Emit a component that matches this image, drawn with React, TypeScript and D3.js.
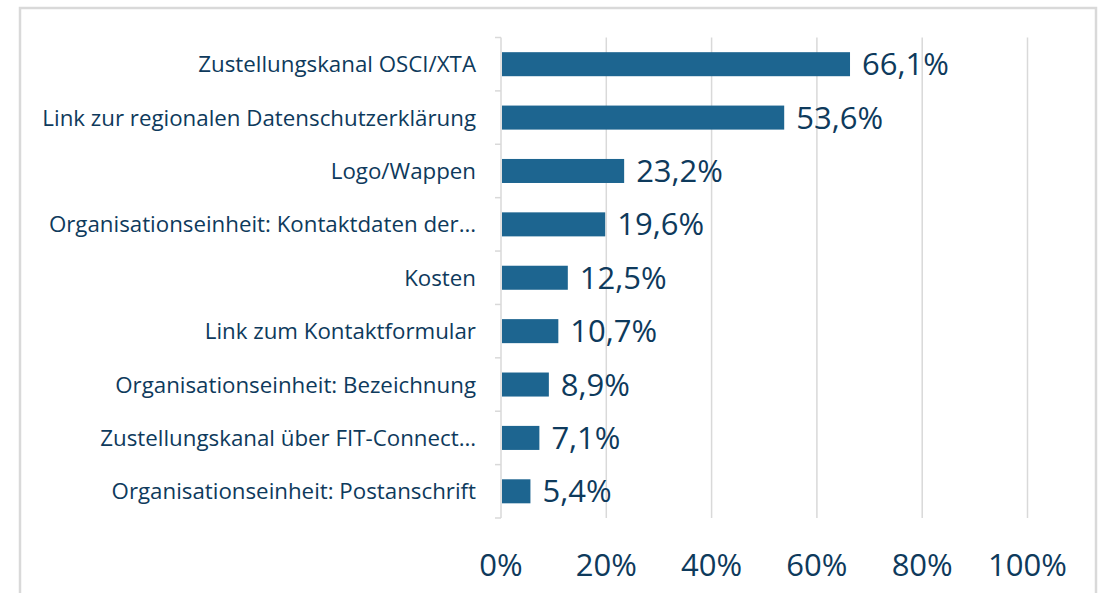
import React from "react";
import * as d3 from "d3";

const categories = [
  "Zustellungskanal OSCI/XTA",
  "Link zur regionalen Datenschutzerklärung",
  "Logo/Wappen",
  "Organisationseinheit: Kontaktdaten der…",
  "Kosten",
  "Link zum Kontaktformular",
  "Organisationseinheit: Bezeichnung",
  "Zustellungskanal über FIT-Connect…",
  "Organisationseinheit: Postanschrift",
];
const values = [66.1, 53.6, 23.2, 19.6, 12.5, 10.7, 8.9, 7.1, 5.4];
const xTicks = [0, 20, 40, 60, 80, 100];

const W = 1106;
const H = 593;
const FONT = "'Open Sans', 'Noto Sans', sans-serif";
const TEXT = "#0e3a5c";
const BAR = "#1d6590";
const GRID = "#d9d9d9";

export default function App() {
  const x = d3.scaleLinear().domain([0, 100]).range([501, 1027.5]);
  const y = d3.scaleBand<string>().domain(categories).range([37.5, 518]).paddingInner(0.55).paddingOuter(0.275);
  const step = y.step();
  const fmt = (v: number) => v.toFixed(1).replace(".", ",") + "%";
  return (
    <svg width={W} height={H} style={{ position: "absolute", left: 0, top: 0 }}>
      <rect x={0} y={0} width={W} height={H} fill="#fff" />
      <path d={`M20,${H + 5} V8 H1096 V${H + 5}`} fill="none" stroke={GRID} strokeWidth={2.5} />
      {xTicks.slice(1).map((t) => (
        <line key={t} x1={x(t)} x2={x(t)} y1={37.5} y2={518} stroke={GRID} strokeWidth={1.5} />
      ))}
      <line x1={x(0)} x2={x(0)} y1={37.5} y2={518} stroke={GRID} strokeWidth={1.5} />
      {d3.range(categories.length + 1).map((i) => (
        <line key={i} x1={495} x2={x(0)} y1={37.5 + i * step} y2={37.5 + i * step} stroke={GRID} strokeWidth={1.5} />
      ))}
      {categories.map((c, i) => (
        <g key={c}>
          <rect x={x(0) + 1} y={y(c)!} width={x(values[i]) - x(0)} height={y.bandwidth()} fill={BAR} />
          <text
            x={476}
            y={y(c)! + y.bandwidth() / 2 + 8}
            textAnchor="end"
            fontFamily={FONT}
            fontSize={22.3}
            fill={TEXT}
          >
            {c}
          </text>
          <text
            x={x(values[i]) + 13}
            y={y(c)! + y.bandwidth() / 2 + 11}
            fontFamily={FONT}
            fontSize={31}
            fill={TEXT}
          >
            {fmt(values[i])}
          </text>
        </g>
      ))}
      {xTicks.map((t) => (
        <text key={t} x={x(t)} y={576} textAnchor="middle" fontFamily={FONT} fontSize={31} fill={TEXT}>
          {t}%
        </text>
      ))}
    </svg>
  );
}
